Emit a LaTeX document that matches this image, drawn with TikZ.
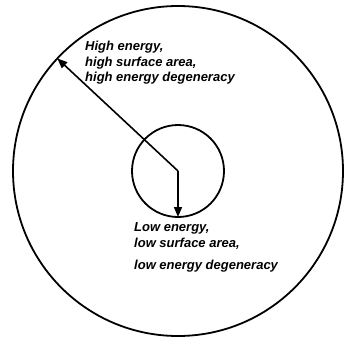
\documentclass[tikz,border=0pt]{standalone}
\usepackage{fontspec}
\setmainfont{Liberation Sans}
\usepackage{tikz}
\usetikzlibrary{arrows.meta,positioning,calc}

\tikzset{
  ring/.style={circle, draw, line width=1.8pt, inner sep=0pt, outer sep=0pt},
  label/.style={anchor=base west, inner sep=0pt, font=\fontsize{13}{15}\selectfont\bfseries\itshape},
  radius arrow/.style={line width=1.6pt, -{Triangle[length=10pt,width=8pt]}}
}

\begin{document}
\begin{tikzpicture}[x=1pt,y=-1pt]
\useasboundingbox (0,0) rectangle (345,343);

% Circles
\node[ring, minimum size=330pt] (outer) at (178,171) {};
\node[ring, minimum size=92pt] (inner) at (178,171) {};
\coordinate (centre) at (178,171);

% Radius arrows
\draw[radius arrow] (centre) -- (outer.137);
\draw[radius arrow] (centre) -- (inner.south);

% High energy text
\node[label] (high1) at (85,50) {High energy,};
\node[label] (high2) at (85,66) {high surface area,};
\node[label] (high3) at (85,81.5) {high energy degeneracy};

% Low energy text
\node[label] (low1) at (134,231.5) {Low energy,};
\node[label] (low2) at (134,247) {low surface area,};
\node[label] (low3) at (134,269.5) {low energy degeneracy};
\end{tikzpicture}
\end{document}
